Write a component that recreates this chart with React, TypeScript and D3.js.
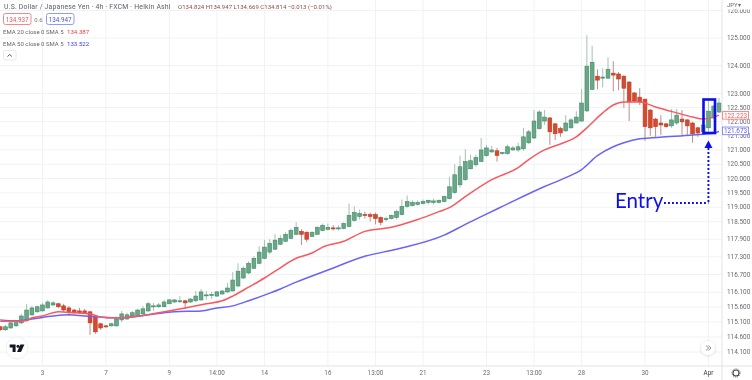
import React from "react";
import * as d3 from "d3";

const opens = [114.94,114.84,114.90,114.97,115.07,115.17,115.34,115.44,115.47,115.57,115.67,115.71,115.64,115.57,115.50,115.47,115.47,115.44,115.27,115.04,114.97,114.97,114.97,115.17,115.20,115.30,115.30,115.37,115.47,115.61,115.61,115.61,115.71,115.77,115.79,115.81,115.77,115.81,115.84,116.00,116.00,115.97,116.04,116.11,116.14,116.31,116.58,116.75,116.91,117.08,117.25,117.46,117.56,117.73,117.83,117.93,118.07,118.17,118.14,118.00,118.07,118.20,118.24,118.29,118.26,118.27,118.34,118.55,118.68,118.75,118.75,118.75,118.65,118.58,118.61,118.65,118.75,119.03,119.06,119.10,119.13,119.17,119.17,119.17,119.20,119.30,119.51,119.78,119.96,120.34,120.48,120.59,120.80,120.93,120.97,120.90,120.87,121.00,121.00,121.04,121.25,121.42,121.75,122.02,122.13,121.92,121.75,121.67,121.78,121.95,122.02,122.38,123.15,123.62,123.55,123.55,123.73,123.70,123.62,123.41,123.02,122.87,122.80,122.41,122.09,121.95,121.92,121.85,121.95,122.09,122.06,121.95,121.78,121.64,121.78,122.13,122.34];
const highs = [114.97,115.00,115.10,115.17,115.37,115.71,115.64,115.65,115.74,115.84,115.80,115.74,115.71,115.64,115.54,115.57,115.54,115.47,115.30,115.07,115.00,115.07,115.27,115.47,115.41,115.47,115.54,115.64,115.77,115.74,115.74,115.84,115.87,115.87,115.97,115.84,115.90,116.14,116.21,116.14,116.11,116.14,116.18,116.41,116.78,117.08,116.98,117.15,117.32,117.66,117.87,117.90,118.07,118.04,118.14,118.27,118.48,118.24,118.17,118.17,118.34,118.44,118.44,118.38,118.38,118.48,119.13,119.03,118.92,118.85,118.82,118.82,118.68,118.68,118.75,118.92,119.27,119.41,119.24,119.24,119.27,119.27,119.30,119.27,119.41,120.06,120.50,120.80,121.03,120.83,120.83,121.42,121.18,121.14,121.07,120.93,121.18,121.14,121.25,121.78,121.71,122.41,122.41,122.41,122.16,121.95,121.82,122.23,122.13,122.37,123.16,125.10,124.72,123.87,123.91,124.30,124.16,123.77,123.66,123.45,123.05,123.19,122.80,122.45,122.13,122.23,121.95,122.45,122.45,122.41,122.09,121.99,121.82,121.95,122.73,122.59,122.84];
const lows = [114.80,114.80,114.87,114.94,115.03,115.13,115.30,115.41,115.45,115.55,115.64,115.57,115.44,115.30,115.37,115.37,115.37,114.67,114.70,114.84,114.90,114.94,114.94,115.10,115.17,115.23,115.30,115.34,115.44,115.47,115.57,115.59,115.71,115.74,115.74,115.54,115.74,115.77,115.81,115.84,115.87,115.94,116.01,116.07,116.14,116.27,116.54,116.71,116.88,117.05,117.22,117.39,117.53,117.70,117.80,117.90,118.04,117.70,117.80,117.97,118.07,118.17,118.20,118.20,118.20,118.24,118.31,118.51,118.58,118.61,118.51,118.41,118.38,118.51,118.58,118.58,118.72,118.99,119.03,119.06,119.10,119.10,119.10,119.13,119.17,119.27,119.47,119.68,119.92,120.31,120.41,120.59,120.76,120.90,120.59,120.83,120.83,120.97,120.93,120.97,121.21,121.39,121.71,121.88,121.18,121.35,121.46,121.64,121.75,121.95,121.99,122.34,123.12,123.15,123.22,123.52,123.08,123.12,122.49,122.02,122.70,122.59,121.32,121.50,121.46,121.53,121.78,121.78,121.88,121.53,121.53,121.25,121.46,121.57,121.60,122.09,122.30];
const closes = [114.84,114.94,115.07,115.14,115.30,115.50,115.57,115.61,115.67,115.77,115.74,115.61,115.50,115.41,115.41,115.41,115.41,115.07,114.77,114.90,114.94,115.04,115.20,115.37,115.34,115.41,115.50,115.54,115.71,115.64,115.67,115.77,115.84,115.84,115.81,115.74,115.87,115.97,116.11,116.01,116.02,116.11,116.14,116.24,116.51,116.81,116.91,117.08,117.25,117.46,117.63,117.76,117.87,117.93,118.07,118.20,118.31,118.07,117.90,118.14,118.31,118.38,118.31,118.26,118.29,118.44,118.72,118.82,118.79,118.72,118.68,118.61,118.48,118.61,118.72,118.85,119.03,119.20,119.17,119.17,119.20,119.24,119.22,119.24,119.37,119.71,120.13,120.41,120.59,120.62,120.73,121.00,121.07,121.00,120.80,120.91,121.11,121.07,121.11,121.46,121.64,122.02,122.34,122.16,121.64,121.57,121.60,121.95,122.06,122.16,122.66,123.98,124.12,123.48,123.59,123.87,123.66,123.52,123.19,122.70,122.73,122.70,121.82,121.78,121.82,121.88,121.82,122.06,122.23,121.99,121.85,121.57,121.60,121.88,122.37,122.55,122.66];

const ema20Idx = [0,5,6,8,10,11,14,17,19,21,23,27,30,35,39,42,44,47,50,52,56,59,61,65,69,74,79,83,85,88,93,98,100,103,106,109,111,114,116,118,121,124,128,131,133,135,136];
const ema20Val = [115.12,115.14,115.24,115.30,115.41,115.44,115.41,115.37,115.27,115.24,115.24,115.32,115.41,115.57,115.71,115.81,115.97,116.27,116.58,116.81,117.25,117.43,117.63,117.83,118.17,118.31,118.58,118.85,118.99,119.37,119.96,120.38,120.66,121.00,121.21,121.46,121.78,122.31,122.59,122.70,122.70,122.52,122.31,122.16,122.09,122.16,122.23];
const ema50Idx = [0,3,6,10,13,16,19,21,25,28,33,38,41,44,47,51,53,56,62,69,75,84,88,91,95,103,107,110,113,116,118,121,126,131,135,136];
const ema50Val = [115.17,115.14,115.20,115.30,115.34,115.30,115.27,115.24,115.27,115.34,115.44,115.47,115.57,115.64,115.81,116.07,116.21,116.44,116.85,117.32,117.56,118.04,118.41,118.68,119.03,119.72,120.03,120.31,120.80,121.11,121.25,121.39,121.46,121.53,121.60,121.65];

const priceTicks = [126,125,124,123,122.5,122,121.5,121,120.5,120,119.5,119,118.5,117.9,117.3,116.7,116.1,115.6,115.1,114.6,114.1];
const timeIdx = [8,20,32,41,50,62,71,80,92,101,110,122,134];
const timeLabels = ["3","7","9","14:00","14","16","13:00","21","23","13:00","28","30","Apr"];

const lastEma20 = 122.223;
const lastEma50 = 121.673;
const entryIdx = 134;
const entryDottedPrice = 119.15;

const W = 752, H = 380, PR = 722, PB = 366;
const font = "Roboto, sans-serif";
const GRID = "#f0f2f5";
const TXT = "#666a72";
const BLUE = "#0c0cee";
const y = d3.scaleLog().domain([114.1, 125]).range([352, 38]);
const x = d3.scaleLinear().domain([0, 136]).range([0.2, 719]);

export default function App() {
  const line20 = d3.line<number>().x((_, i) => x(ema20Idx[i])).y(d => y(d)).curve(d3.curveMonotoneX)(ema20Val) || "";
  const line50 = d3.line<number>().x((_, i) => x(ema50Idx[i])).y(d => y(d)).curve(d3.curveMonotoneX)(ema50Val) || "";
  const ex = x(entryIdx);
  const dotY = y(entryDottedPrice);
  return (
    <svg width={W} height={H} style={{ position: "absolute", left: 0, top: 0, background: "#fff" }} fontFamily={font}>
      <defs>
        <filter id="soft" x="0" y="0" width="100%" height="100%"><feGaussianBlur stdDeviation="0.35" /></filter>
        <filter id="shadow" x="-50%" y="-50%" width="200%" height="200%"><feDropShadow dx="0" dy="0.5" stdDeviation="1.5" floodColor="#000" floodOpacity="0.18" /></filter>
        <clipPath id="plot"><rect x={0} y={0} width={PR} height={PB} /></clipPath>
      </defs>
      <g filter="url(#soft)">
        {priceTicks.map(t => <line key={t} x1={0} x2={PR} y1={y(t)} y2={y(t)} stroke={GRID} strokeWidth={1} />)}
        {timeIdx.map(t => <line key={t} x1={x(t)} x2={x(t)} y1={0} y2={PB} stroke={GRID} strokeWidth={1} />)}
        <line x1={PR} x2={PR} y1={0} y2={H} stroke="#e0e3eb" />
        <line x1={0} x2={W} y1={PB} y2={PB} stroke="#e0e3eb" />

        <g clipPath="url(#plot)">
          {opens.map((o, i) => {
            const c = closes[i];
            const up = c >= o;
            const top = y(Math.max(o, c));
            const bot = y(Math.min(o, c));
            return (
              <g key={i}>
                <line x1={x(i)} x2={x(i)} y1={y(highs[i])} y2={y(lows[i])} stroke={up ? "#a3c2b1" : "#b98f8a"} strokeWidth={1} />
                <rect x={x(i) - 1.9} y={top} width={3.8} height={Math.max(bot - top, 1)} fill={up ? "#6ca688" : "#d5492f"} stroke={up ? "#3f8a68" : "#bf3d28"} strokeWidth={0.6} />
              </g>
            );
          })}
          <path d={line50} fill="none" stroke="#6a63f7" strokeWidth={1.5} />
          <path d={line20} fill="none" stroke="#f8595e" strokeWidth={1.5} />
        </g>

        {/* header */}
        <text x={4} y={9} fontSize={6.9} fill="#5c5f67" letterSpacing={0.18}>U.S. Dollar / Japanese Yen · 4h · FXCM · Heikin Ashi</text>
        <text x={178} y={9} fontSize={6} fill="#8f4a44" letterSpacing={0.03}>O134.824 H134.947 L134.669 C134.814 −0.013 (−0.01%)</text>
        <rect x={3.5} y={13.5} width={27.5} height={11} rx={2} fill="#fff" stroke="#f08a8a" />
        <text x={17.2} y={21.5} fontSize={6.3} fill="#e0585c" textAnchor="middle">134.937</text>
        <text x={38.5} y={21.5} fontSize={6} fill="#777" textAnchor="middle">0.6</text>
        <rect x={46.5} y={13.5} width={27.5} height={11} rx={2} fill="#fff" stroke="#8f9cf5" />
        <text x={60.2} y={21.5} fontSize={6.3} fill="#4a55d8" textAnchor="middle">134.947</text>
        <text x={3} y={34} fontSize={6} fill="#666">EMA 20 close 0 SMA 5</text>
        <text x={67} y={34} fontSize={6.1} fill="#f03a3a">134.387</text>
        <text x={3} y={46} fontSize={6} fill="#666">EMA 50 close 0 SMA 5</text>
        <text x={67} y={46} fontSize={6.1} fill="#3a3af0">133.522</text>
        <rect x={3.5} y={50.5} width={12.5} height={9.5} rx={1.5} fill="#fff" stroke="#e6e8ec" />
        <path d="M7.5 56.5 L9.7 54.5 L11.9 56.5" fill="none" stroke="#444" strokeWidth={0.9} />

        {/* price axis */}
        {priceTicks.map(t => <text key={t} x={727} y={y(t) + 2.2} fontSize={6.4} fill={TXT}>{t.toFixed(3)}</text>)}
        <rect x={723} y={0} width={29} height={9.5} fill="#fff" />
        <text x={727} y={6.5} fontSize={6} fill={TXT}>JPY▾</text>

        <rect x={722.5} y={y(lastEma20) - 3.8} width={26} height={7.6} fill="#fff" stroke="#f58b8b" />
        <text x={735.5} y={y(lastEma20) + 2.2} fontSize={6.4} fill="#ef5a5a" textAnchor="middle">122.223</text>
        <rect x={722.5} y={y(lastEma50) - 3.8} width={26} height={7.6} fill="#fff" stroke="#8f8cf5" />
        <text x={735.5} y={y(lastEma50) + 2.2} fontSize={6.4} fill="#5a55ef" textAnchor="middle">121.673</text>

        {/* time axis */}
        {timeIdx.map((t, i) => <text key={t} x={x(t)} y={375} fontSize={6.3} fill={i === timeIdx.length - 1 ? "#333" : TXT} textAnchor="middle">{timeLabels[i]}</text>)}

        {/* logo */}
        <circle cx={17} cy={348} r={11} fill="#fff" stroke="#eef0f3" />
        <path d="M9.7 344.6 H15.6 V352 H12.6 V347.6 H9.7 Z" fill="#131722" />
        <circle cx={18} cy={346.2} r={1.5} fill="#131722" />
        <path d="M20.4 344.6 H24.4 L21 352 H17 Z" fill="#131722" />

        {/* go-to-date button and settings */}
        <circle cx={708} cy={348} r={7} fill="#fff" filter="url(#shadow)" />
        <path d="M706 345.5 L708.6 348 L706 350.5 M708.4 345.5 L711 348 L708.4 350.5" fill="none" stroke="#555" strokeWidth={0.7} />
        <circle cx={736} cy={373} r={3} fill="none" stroke="#444" strokeWidth={1.1} />
        <circle cx={736} cy={373} r={4.1} fill="none" stroke="#444" strokeWidth={0.8} strokeDasharray="1 1.15" />

        {/* annotations */}
        <rect x={703.5} y={99.5} width={11.5} height={33.5} fill="none" stroke={BLUE} strokeWidth={2.6} />
        <path d={`M${ex} 140.5 L${ex + 4} 148 H${ex - 4} Z`} fill={BLUE} />
        <line x1={ex} x2={ex} y1={148} y2={dotY} stroke={BLUE} strokeWidth={1.9} strokeDasharray="1.9 2.1" />
        <line x1={664} x2={ex} y1={dotY} y2={dotY} stroke={BLUE} strokeWidth={1.9} strokeDasharray="1.9 2.1" />
        <text x={615} y={208} fontSize={20.5} fill={BLUE} fontFamily="Lato, sans-serif">Entry</text>
      </g>
    </svg>
  );
}
